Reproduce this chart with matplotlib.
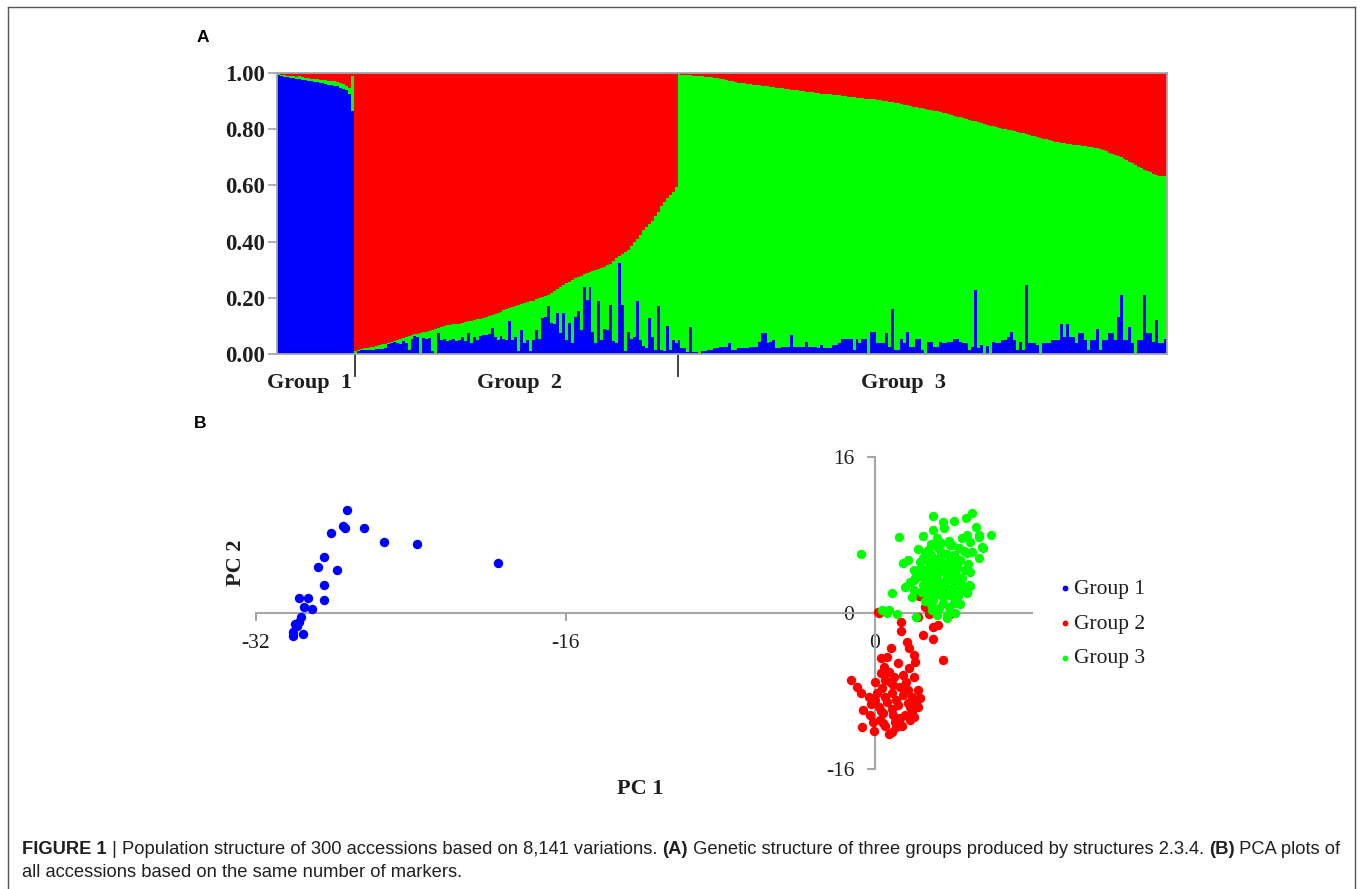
import numpy as np
import matplotlib
matplotlib.use('Agg')
import matplotlib.pyplot as plt
from matplotlib.lines import Line2D
import matplotlib.transforms as mtransforms

SERIF = 'Liberation Serif'
SANS = 'Liberation Sans'
BLUE, RED, GREEN = '#0000ff', '#ff0000', '#00ff00'
GRAY = '#a6a6a6'
INK = '#1e1e1e'

# ---------------- panel A: membership (Q) per accession ----------------
# blue = cluster 1, red = cluster 2, green = remainder
g1_blue = [0.992, 0.988, 0.987, 0.985, 0.983, 0.981, 0.979, 0.977, 0.976, 0.975,
           0.973, 0.971, 0.969, 0.967, 0.965, 0.963, 0.961, 0.959, 0.957, 0.955,
           0.953, 0.948, 0.943, 0.939, 0.925, 0.865]
g1_red = [0.005, 0.008, 0.008, 0.010, 0.010, 0.012, 0.013, 0.012, 0.015, 0.017,
          0.018, 0.020, 0.020, 0.022, 0.024, 0.025, 0.026, 0.027, 0.030, 0.030,
          0.032, 0.036, 0.040, 0.045, 0.055, 0.010]

g2_blue = [0.005, 0.012, 0.014, 0.015, 0.015, 0.016, 0.016, 0.018, 0.018, 0.018,
           0.020, 0.036, 0.038, 0.042, 0.040, 0.035, 0.045, 0.040, 0.015, 0.055,
           0.063, 0.060, 0.005, 0.058, 0.055, 0.057, 0.010, 0.005, 0.075, 0.050,
           0.052, 0.048, 0.050, 0.055, 0.045, 0.050, 0.060, 0.048, 0.075, 0.040,
           0.062, 0.050, 0.065, 0.069, 0.068, 0.070, 0.093, 0.060, 0.050, 0.065,
           0.055, 0.050, 0.116, 0.050, 0.060, 0.010, 0.087, 0.040, 0.050, 0.010,
           0.050, 0.087, 0.055, 0.128, 0.130, 0.170, 0.110, 0.105, 0.146, 0.075,
           0.146, 0.050, 0.110, 0.040, 0.133, 0.152, 0.085, 0.240, 0.193, 0.240,
           0.080, 0.040, 0.190, 0.050, 0.090, 0.085, 0.175, 0.045, 0.040, 0.324,
           0.175, 0.010, 0.080, 0.055, 0.060, 0.187, 0.050, 0.030, 0.020, 0.128,
           0.060, 0.015, 0.170, 0.015, 0.010, 0.098, 0.015, 0.050, 0.040]
g2_red = [0.990, 0.985, 0.982, 0.980, 0.978, 0.976, 0.974, 0.972, 0.969, 0.966,
          0.964, 0.961, 0.957, 0.954, 0.951, 0.948, 0.944, 0.940, 0.936, 0.933,
          0.930, 0.928, 0.926, 0.923, 0.921, 0.919, 0.915, 0.910, 0.906, 0.903,
          0.900, 0.898, 0.896, 0.895, 0.893, 0.892, 0.890, 0.887, 0.884, 0.882,
          0.880, 0.877, 0.874, 0.871, 0.868, 0.865, 0.861, 0.857, 0.853, 0.849,
          0.845, 0.841, 0.837, 0.833, 0.829, 0.825, 0.822, 0.819, 0.816, 0.813,
          0.810, 0.806, 0.802, 0.798, 0.794, 0.790, 0.784, 0.777, 0.770, 0.762,
          0.755, 0.748, 0.742, 0.736, 0.730, 0.725, 0.721, 0.717, 0.713, 0.709,
          0.705, 0.701, 0.697, 0.693, 0.689, 0.685, 0.680, 0.670, 0.660, 0.652,
          0.645, 0.638, 0.630, 0.615, 0.602, 0.590, 0.575, 0.560, 0.548, 0.538,
          0.525, 0.510, 0.495, 0.475, 0.460, 0.445, 0.435, 0.422, 0.405]

g3_blue = [0.050, 0.020, 0.020, 0.008, 0.097, 0.008, 0.008, 0.003, 0.010, 0.010,
           0.014, 0.014, 0.020, 0.020, 0.026, 0.026, 0.026, 0.038, 0.014, 0.014,
           0.020, 0.020, 0.020, 0.020, 0.026, 0.026, 0.026, 0.044, 0.073, 0.073,
           0.038, 0.044, 0.050, 0.020, 0.020, 0.026, 0.026, 0.026, 0.067, 0.026,
           0.026, 0.026, 0.026, 0.044, 0.026, 0.026, 0.026, 0.020, 0.032, 0.020,
           0.020, 0.020, 0.032, 0.032, 0.038, 0.052, 0.052, 0.052, 0.055, 0.014,
           0.055, 0.038, 0.055, 0.055, 0.003, 0.079, 0.079, 0.038, 0.038, 0.038,
           0.073, 0.026, 0.160, 0.014, 0.014, 0.055, 0.038, 0.079, 0.026, 0.026,
           0.055, 0.055, 0.014, 0.003, 0.044, 0.044, 0.026, 0.026, 0.044, 0.038,
           0.038, 0.044, 0.044, 0.052, 0.052, 0.044, 0.038, 0.038, 0.014, 0.026,
           0.228, 0.020, 0.032, 0.003, 0.028, 0.003, 0.044, 0.038, 0.038, 0.050,
           0.050, 0.061, 0.079, 0.050, 0.014, 0.044, 0.014, 0.245, 0.038, 0.038,
           0.038, 0.032, 0.003, 0.038, 0.038, 0.038, 0.050, 0.050, 0.050, 0.108,
           0.061, 0.108, 0.061, 0.061, 0.038, 0.073, 0.073, 0.050, 0.014, 0.050,
           0.050, 0.090, 0.014, 0.050, 0.050, 0.073, 0.073, 0.050, 0.132, 0.210,
           0.050, 0.050, 0.097, 0.038, 0.003, 0.050, 0.050, 0.210, 0.073, 0.073,
           0.044, 0.120, 0.038, 0.038, 0.055]
g3_red = [0.004, 0.006, 0.007, 0.008, 0.008, 0.009, 0.010, 0.011, 0.012, 0.013,
          0.014, 0.015, 0.017, 0.019, 0.021, 0.023, 0.025, 0.027, 0.029, 0.032,
          0.035, 0.036, 0.037, 0.039, 0.040, 0.041, 0.042, 0.044, 0.045, 0.046,
          0.048, 0.049, 0.050, 0.052, 0.054, 0.055, 0.056, 0.058, 0.060, 0.061,
          0.062, 0.063, 0.065, 0.066, 0.067, 0.068, 0.070, 0.071, 0.073, 0.074,
          0.075, 0.076, 0.078, 0.079, 0.080, 0.082, 0.083, 0.084, 0.086, 0.087,
          0.088, 0.089, 0.090, 0.091, 0.092, 0.093, 0.094, 0.096, 0.097, 0.099,
          0.100, 0.102, 0.104, 0.106, 0.108, 0.110, 0.113, 0.115, 0.118, 0.120,
          0.122, 0.124, 0.126, 0.128, 0.130, 0.132, 0.134, 0.137, 0.140, 0.142,
          0.143, 0.146, 0.149, 0.152, 0.155, 0.158, 0.161, 0.164, 0.167, 0.170,
          0.172, 0.175, 0.178, 0.181, 0.184, 0.187, 0.190, 0.193, 0.196, 0.198,
          0.200, 0.202, 0.204, 0.207, 0.209, 0.212, 0.215, 0.218, 0.221, 0.223,
          0.225, 0.228, 0.231, 0.234, 0.236, 0.239, 0.242, 0.244, 0.247, 0.249,
          0.250, 0.252, 0.254, 0.255, 0.257, 0.258, 0.259, 0.261, 0.263, 0.265,
          0.266, 0.268, 0.271, 0.275, 0.279, 0.283, 0.287, 0.291, 0.296, 0.300,
          0.305, 0.310, 0.316, 0.322, 0.328, 0.334, 0.339, 0.344, 0.349, 0.354,
          0.358, 0.362, 0.365, 0.367, 0.368]

group_names = ['Group  1', 'Group  2', 'Group  3']
group_label_x = [10.3, 81.1, 210.8]   # label centres, accession units

# ---------------- panel B: PCA scores ----------------
g1_pc1 = [-27.3, -27.5, -27.4, -26.4, -28.1, -25.4, -23.7, -19.5, -28.5, -28.8,
          -27.8, -28.5, -28.5, -29.8, -29.3, -29.5, -29.1, -29.65, -29.8, -30.0,
          -30.1, -30.1, -29.55, -29.9]
g1_pc2 = [10.6, 8.9, 8.7, 8.7, 8.2, 7.3, 7.1, 5.1, 5.7, 4.7,
          4.4, 2.9, 1.3, 1.5, 1.5, 0.6, 0.4, -0.45, -0.9, -1.1,
          -1.9, -2.4, -2.2, -1.3]

g2_pc1 = [0.22, 0.17, 1.35, 1.35, 2.47, 3.02, 3.28, 3.89, 3.54, 1.67,
          1.78, 0.81, 2.02, 2.07, 0.31, 0.60, 1.21, 0.47, 1.78, 1.47,
          2.00, -1.26, -0.95, -0.74, 0.00, 0.52, 0.35, 0.95, 1.30, 1.73,
          2.24, 2.33, 1.90, 1.47, 0.86, 0.09, 0.00, 0.60, 1.21, 1.81,
          2.24, -0.60, -0.26, 0.43, 0.95, 1.55, 2.00, -0.69, -0.03, 0.52,
          0.87, 1.38, 1.81, 1.04, 0.26, -0.12, 0.30, 0.70, 1.00, 1.60,
          0.20, 0.90, 1.30, 1.70, 0.50, 1.10, -0.20, 0.40, 1.10, 0.70,
          1.90, 2.10, 1.50, 0.80, -0.30, 0.30, 2.25, 2.60, 2.80, 3.00,
          2.20, 3.90]
g2_pc2 = [-0.03, 0.13, -0.89, -1.81, -2.25, -2.70, -1.23, -0.10, -4.82, -2.94,
          -3.62, -3.55, -4.31, -4.99, -4.65, -4.48, -5.16, -5.50, -5.67, -6.36,
          -6.53, -6.87, -7.62, -8.24, -7.04, -6.87, -7.72, -7.38, -7.55, -7.90,
          -7.90, -8.75, -8.58, -8.41, -8.24, -8.24, -8.92, -9.10, -9.44, -9.60,
          -9.60, -9.95, -10.46, -10.29, -10.46, -10.46, -10.63, -11.66, -12.07, -11.59,
          -12.17, -11.59, -10.97, -11.14, -10.97, -11.14, -6.20, -6.00, -6.60, -7.10,
          -9.60, -9.80, -10.80, -9.20, -8.60, -8.90, -9.30, -11.30, -11.70, -12.40,
          -10.10, -9.10, -7.60, -7.10, -8.60, -10.00, 1.70, 0.65, -0.10, -1.40,
          -0.40, 0.00]

g3_pc1 = [2.99, 3.54, 4.09, 4.72, 5.00, 5.23, 3.58, 3.02, 1.26, 2.47,
          6.00, 5.35, 4.75, 4.49, 3.20, 4.92, 5.53, 5.35, -0.74, 3.20,
          3.89, 4.32, 2.76, 2.33, 1.73, 1.47, 3.37, 3.89, 4.40, 4.75,
          2.85, 3.54, 4.23, 4.66, 2.50, 3.20, 3.71, 4.32, 4.84, 1.99,
          1.55, 0.86, 1.90, 2.76, 3.37, 4.06, 4.49, 4.75, 3.02, 3.54,
          4.15, 2.94, 3.20, 3.71, 4.15, 2.12, 0.74, 0.35, 1.16, 3.70,
          4.06, 2.07, 5.60, 5.40, 4.90, 0.60, 2.60, 2.90, 3.10, 3.40,
          3.70, 3.90, 4.10, 2.50, 2.80, 3.20, 3.60, 4.00, 4.30, 2.40,
          2.70, 3.00, 3.30, 3.60, 3.90, 4.20, 4.50, 2.30, 2.60, 2.90,
          3.20, 3.50, 3.80, 4.10, 4.40, 2.50, 2.80, 3.10, 3.40, 3.70,
          4.00, 2.40, 2.70, 3.00, 3.30, 3.60, 3.90, 4.30, 2.90, 3.50,
          3.80, 2.60, 3.30, 4.40, 3.40, 3.80, 4.00, 2.90, 4.60, 4.80,
          5.00, 4.90, 2.20, 2.00, 1.80, 2.00]
g3_pc2 = [9.98, 9.37, 9.44, 9.70, 10.30, 8.85, 8.70, 8.50, 7.80, 7.90,
          8.00, 8.00, 8.00, 7.66, 7.66, 7.30, 6.74, 5.60, 6.05, 6.80,
          6.97, 6.63, 6.46, 5.26, 5.44, 5.10, 5.77, 5.78, 5.44, 6.12,
          4.75, 4.75, 4.58, 4.41, 4.24, 3.90, 3.73, 3.56, 2.87, 3.38,
          2.63, 2.08, 1.67, 3.04, 2.87, 2.70, 2.36, 2.02, 2.02, 1.67,
          1.33, 0.31, -0.20, -0.20, -0.03, -0.44, 0.31, 0.31, -0.10, -0.55,
          1.06, 3.60, 6.70, 7.80, 2.80, 0.03, 6.20, 6.00, 5.30, 6.30,
          6.10, 5.40, 6.00, 5.60, 5.20, 4.90, 5.00, 4.90, 5.20, 4.60,
          4.30, 4.40, 4.20, 4.40, 4.10, 3.90, 3.60, 3.80, 3.50, 3.60,
          3.40, 3.20, 3.50, 3.30, 3.10, 2.90, 2.60, 2.80, 2.50, 2.60,
          2.30, 2.20, 1.90, 1.30, 1.90, 2.10, 1.80, 1.70, 0.90, 1.00,
          0.60, 1.20, 0.50, 0.90, 7.20, 7.40, 7.00, 7.10, 6.40, 5.00,
          6.30, 4.20, 6.60, 4.40, 3.20, 2.40]

W, H = 1363, 889


def box(l, t, r, b):
    return [l / W, 1 - b / H, (r - l) / W, (b - t) / H]


fig = plt.figure(figsize=(W / 100, H / 100), dpi=100)

# ---------------- panel A ----------------
axA = fig.add_axes(box(277, 73, 1167, 354))
blue = np.array(g1_blue + g2_blue + g3_blue)
red = np.array(g1_red + g2_red + g3_red)
green = np.clip(1 - blue - red, 0, None)
x = np.arange(len(blue))
kw = dict(width=1.0, linewidth=0, antialiased=False)
axA.bar(x, blue, color=BLUE, **kw)
axA.bar(x, green, bottom=blue, color=GREEN, **kw)
axA.bar(x, red, bottom=blue + green, color=RED, **kw)
axA.set_xlim(-0.5, len(x) - 0.5)
axA.set_ylim(0, 1)
axA.set_xticks([])
axA.set_yticks([0, 0.2, 0.4, 0.6, 0.8, 1.0])
axA.set_yticklabels(['0.00', '0.20', '0.40', '0.60', '0.80', '1.00'],
                    fontfamily=SERIF, fontsize=16.5, fontweight='bold', color=INK)
axA.tick_params(axis='y', length=6.5, width=1.3, color=GRAY, pad=2)
for s in axA.spines.values():
    s.set_color(GRAY)
    s.set_linewidth(1.3)

# group separators and names under the bars
trans = mtransforms.blended_transform_factory(axA.transData, axA.transAxes)
n1, n2 = len(g1_blue), len(g2_blue)
for b in [n1 - 0.5, n1 + n2 - 0.5]:
    axA.plot([b + 0.3, b + 0.3], [-0.005, -0.08], color='#333333', lw=1.3,
             transform=trans, clip_on=False)
for name, gx in zip(group_names, group_label_x):
    axA.text(gx, -0.103, name, transform=trans, ha='center', va='center',
             fontfamily=SERIF, fontsize=16, fontweight='bold', color=INK)

# ---------------- panel B ----------------
axB = fig.add_axes(box(256, 457, 1031.7, 769))
dot = 46
axB.scatter(g1_pc1, g1_pc2, s=dot, color=BLUE, linewidths=0, label='Group 1', zorder=3)
axB.scatter(g2_pc1, g2_pc2, s=dot, color=RED, linewidths=0, label='Group 2', zorder=3)
axB.scatter(g3_pc1, g3_pc2, s=dot, color=GREEN, linewidths=0, label='Group 3', zorder=3)
axB.set_xlim(-32, 8.1)
axB.set_ylim(-16, 16)
axB.spines['left'].set_position(('data', 0))
axB.spines['bottom'].set_position(('data', 0))
axB.spines['top'].set_visible(False)
axB.spines['right'].set_visible(False)
for s in ['left', 'bottom']:
    axB.spines[s].set_color(GRAY)
    axB.spines[s].set_linewidth(1.5)
axB.set_xticks([-32, -16, 0])
axB.set_xticklabels(['-32', '-16', '0'])
axB.set_yticks([-16, 0, 16])
axB.set_yticklabels(['-16', '0', '16'])
axB.tick_params(length=6, width=1.5, color=GRAY, labelsize=15.5, labelcolor=INK)
axB.tick_params(axis='x', pad=9)
axB.tick_params(axis='y', pad=9)
for t in axB.get_xticklabels() + axB.get_yticklabels():
    t.set_fontfamily(SERIF)

fig.text(640 / W, 1 - 789 / H, 'PC 1', ha='center', va='center',
         fontfamily=SERIF, fontsize=16, fontweight='bold', color=INK)
fig.text(236 / W, 1 - 563 / H, 'PC 2', ha='center', va='center', rotation=90,
         fontfamily=SERIF, fontsize=16, fontweight='bold', color=INK)

axB.legend(loc='upper left', bbox_to_anchor=(1060 / W, 1 - 579 / H),
           bbox_transform=fig.transFigure, frameon=False, markerscale=0.62,
           handlelength=0.5, handletextpad=0.15, labelspacing=0.68,
           borderpad=0, borderaxespad=0,
           prop={'family': SERIF, 'size': 15.5})
for t in axB.get_legend().get_texts():
    t.set_color(INK)

# panel letters
fig.text(203 / W, 1 - 37 / H, 'A', ha='center', va='center',
         fontfamily=SANS, fontsize=12.5, fontweight='bold', color='black')
fig.text(200 / W, 1 - 424 / H, 'B', ha='center', va='center',
         fontfamily=SANS, fontsize=12.5, fontweight='bold', color='black')

# frame around the figure
frame = dict(transform=fig.transFigure, color='#555555', lw=1)
fig.add_artist(Line2D([8 / W, 8 / W], [0, 1 - 7 / H], **frame))
fig.add_artist(Line2D([1355 / W, 1355 / W], [0, 1 - 7 / H], **frame))
fig.add_artist(Line2D([8 / W, 1355 / W], [1 - 7 / H, 1 - 7 / H], **frame))

# caption, pieces chained so bold and regular runs share a baseline
CAP = 13.2
CAP_COLOR = '#231f20'


def chain(parts, x0, y0):
    prev = None
    for txt, bold in parts:
        style = dict(fontsize=CAP, fontfamily=SANS, color=CAP_COLOR,
                     fontweight='bold' if bold else 'normal')
        if prev is None:
            prev = fig.text(x0, y0, txt, ha='left', va='bottom', **style)
        else:
            prev = fig.add_artist(plt.Annotation(txt, xy=(1, 0), xycoords=prev,
                                                 ha='left', va='bottom', **style))


chain([('FIGURE 1', True), (' | Population structure of 300 accessions based on 8,141 variations. ', False),
       ('(A)', True), (' Genetic structure of three groups produced by structures 2.3.4. ', False),
       ('(B)', True), (' PCA plots of', False)], 22 / W, 1 - 858 / H)
chain([('all accessions based on the same number of markers.', False)], 22 / W, 1 - 881 / H)

fig.savefig('out.png', dpi=100)
